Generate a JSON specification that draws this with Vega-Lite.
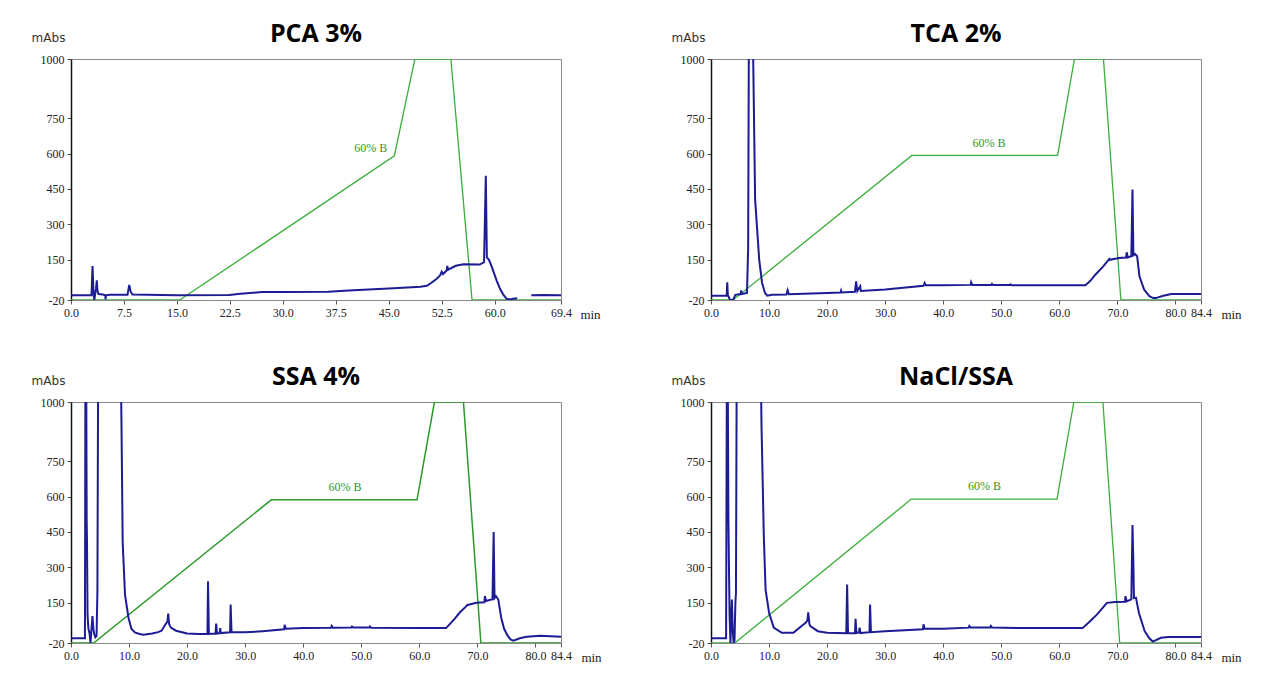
{
  "$schema": "https://vega.github.io/schema/vega-lite/v6.json",
  "background": "white",
  "padding": {"left": 30, "top": 21, "right": 0, "bottom": 0},
  "autosize": {"type": "pad"},
  "config": {
    "view": {"stroke": "#888888", "strokeWidth": 1},
    "axis": {
      "grid": false,
      "labelFont": "Liberation Serif",
      "labelFontSize": 12,
      "labelColor": "#222222",
      "labelFlush": false,
      "labelOverlap": false,
      "tickColor": "#555555",
      "tickSize": 4,
      "labelPadding": 3
    },
    "axisY": {
      "domainColor": "#111111",
      "domainWidth": 1.5,
      "labelExpr": "'' + datum.value",
      "titleFont": "DejaVu Sans",
      "titleFontSize": 12,
      "titleFontWeight": "normal",
      "titleColor": "#333333",
      "titleAngle": 0,
      "titleAlign": "center",
      "titleBaseline": "middle",
      "titleX": -23,
      "titleY": -22
    },
    "axisX": {
      "domainColor": "#888888",
      "titleFont": "Liberation Serif",
      "titleFontSize": 13,
      "titleFontWeight": "normal",
      "titleColor": "#222222",
      "titleAlign": "center",
      "titleBaseline": "middle",
      "titleX": 519,
      "titleY": 14
    },
    "title": {
      "font": "Open Sans",
      "fontSize": 25,
      "fontWeight": "bold",
      "color": "#000000",
      "anchor": "middle",
      "frame": "group",
      "offset": 0,
      "dy": 20
    }
  },
  "datasets": {
    "pca": [
      {"t": 0, "v": 0, "seg": 1}, {"t": 2.9, "v": 0, "seg": 1}, {"t": 3.05, "v": 124, "seg": 1}, {"t": 3.2, "v": 2, "seg": 1}, {"t": 3.3, "v": -20, "seg": 1}, {"t": 3.4, "v": 0, "seg": 1}, {"t": 3.55, "v": 30, "seg": 1}, {"t": 3.65, "v": 63, "seg": 1}, {"t": 3.75, "v": 20, "seg": 1}, {"t": 3.9, "v": 5, "seg": 1}, {"t": 4.5, "v": 3, "seg": 1}, {"t": 4.85, "v": 0, "seg": 1}, {"t": 4.9, "v": -18, "seg": 1}, {"t": 4.95, "v": 0, "seg": 1}, {"t": 5.5, "v": 2, "seg": 1}, {"t": 8.0, "v": 2, "seg": 1}, {"t": 8.25, "v": 44, "seg": 1}, {"t": 8.45, "v": 15, "seg": 1}, {"t": 8.7, "v": 3, "seg": 1}, {"t": 15, "v": 0, "seg": 1}, {"t": 22.4, "v": 1, "seg": 1}, {"t": 24, "v": 6, "seg": 1}, {"t": 27, "v": 14, "seg": 1}, {"t": 30, "v": 14, "seg": 1}, {"t": 36.4, "v": 15, "seg": 1}, {"t": 40, "v": 21, "seg": 1}, {"t": 45.7, "v": 30, "seg": 1}, {"t": 49.5, "v": 36, "seg": 1}, {"t": 50.4, "v": 40, "seg": 1}, {"t": 51, "v": 52, "seg": 1}, {"t": 51.8, "v": 70, "seg": 1}, {"t": 52.3, "v": 85, "seg": 1}, {"t": 52.5, "v": 100, "seg": 1}, {"t": 52.7, "v": 90, "seg": 1}, {"t": 53.2, "v": 105, "seg": 1}, {"t": 53.3, "v": 124, "seg": 1}, {"t": 53.4, "v": 108, "seg": 1}, {"t": 54.5, "v": 125, "seg": 1}, {"t": 55.6, "v": 131, "seg": 1}, {"t": 57.9, "v": 130, "seg": 1}, {"t": 58.5, "v": 140, "seg": 1}, {"t": 58.75, "v": 506, "seg": 1}, {"t": 58.9, "v": 160, "seg": 1}, {"t": 59.2, "v": 150, "seg": 1}, {"t": 59.6, "v": 120, "seg": 1}, {"t": 60.3, "v": 61, "seg": 1}, {"t": 60.8, "v": 25, "seg": 1}, {"t": 61.2, "v": 4, "seg": 1}, {"t": 61.7, "v": -15, "seg": 1}, {"t": 62.2, "v": -18, "seg": 1}, {"t": 62.6, "v": -15, "seg": 1}, {"t": 63.2, "v": -13, "seg": 1},
      {"t": 65.2, "v": 0, "seg": 2}, {"t": 67, "v": 1, "seg": 2}, {"t": 69.4, "v": 0, "seg": 2}
    ],
    "pcaGrad": [
      {"t": 0, "v": -20}, {"t": 15.4, "v": -20}, {"t": 45.8, "v": 590}, {"t": 48.7, "v": 1000}, {"t": 53.8, "v": 1000}, {"t": 56.8, "v": -20}, {"t": 69.4, "v": -20}
    ],
    "pcaLab": [{"t": 44.8, "v": 622, "label": "60% B"}],
    "tca": [
      {"t": 0, "v": -2}, {"t": 2.7, "v": -2}, {"t": 2.8, "v": 55}, {"t": 2.9, "v": 0}, {"t": 3.3, "v": -20}, {"t": 3.8, "v": -20}, {"t": 4.2, "v": 2}, {"t": 5.1, "v": 5}, {"t": 5.2, "v": 21}, {"t": 5.3, "v": 5}, {"t": 6.2, "v": 10}, {"t": 6.4, "v": 200}, {"t": 6.55, "v": 1300}, {"t": 7.1, "v": 1300}, {"t": 7.6, "v": 406}, {"t": 8.3, "v": 151}, {"t": 8.8, "v": 52}, {"t": 9.3, "v": 10}, {"t": 9.7, "v": -2}, {"t": 10.5, "v": 2}, {"t": 13.0, "v": 3}, {"t": 13.2, "v": 21}, {"t": 13.4, "v": 4}, {"t": 16, "v": 6}, {"t": 20, "v": 10}, {"t": 22.3, "v": 12}, {"t": 22.4, "v": 20}, {"t": 22.5, "v": 12}, {"t": 24.8, "v": 15}, {"t": 25.0, "v": 59}, {"t": 25.2, "v": 18}, {"t": 25.7, "v": 38}, {"t": 25.8, "v": 18}, {"t": 30, "v": 24}, {"t": 36.6, "v": 40}, {"t": 36.8, "v": 52}, {"t": 37.0, "v": 42}, {"t": 40, "v": 42}, {"t": 44.7, "v": 44}, {"t": 44.8, "v": 55}, {"t": 45, "v": 44}, {"t": 48.3, "v": 44}, {"t": 48.4, "v": 48}, {"t": 48.6, "v": 43}, {"t": 51.5, "v": 43}, {"t": 51.6, "v": 46}, {"t": 51.8, "v": 42}, {"t": 60, "v": 42}, {"t": 64.5, "v": 42}, {"t": 65.3, "v": 60}, {"t": 66.2, "v": 87}, {"t": 67.6, "v": 123}, {"t": 68.6, "v": 154}, {"t": 68.7, "v": 150}, {"t": 70.3, "v": 158}, {"t": 71.5, "v": 160}, {"t": 71.6, "v": 182}, {"t": 71.8, "v": 160}, {"t": 72.4, "v": 165}, {"t": 72.6, "v": 448}, {"t": 72.75, "v": 170}, {"t": 73.0, "v": 175}, {"t": 73.4, "v": 165}, {"t": 73.8, "v": 80}, {"t": 74.6, "v": 24}, {"t": 75.5, "v": -4}, {"t": 76.2, "v": -12}, {"t": 76.6, "v": -12}, {"t": 77.9, "v": -2}, {"t": 79.3, "v": 5}, {"t": 84.4, "v": 5}
    ],
    "tcaGrad": [
      {"t": 0, "v": -20}, {"t": 3.8, "v": -20}, {"t": 34.6, "v": 592}, {"t": 59.7, "v": 592}, {"t": 62.6, "v": 1000}, {"t": 67.6, "v": 1000}, {"t": 70.6, "v": -20}, {"t": 84.4, "v": -20}
    ],
    "tcaLab": [{"t": 47.9, "v": 643, "label": "60% B"}],
    "ssa": [
      {"t": 0, "v": 0}, {"t": 2.4, "v": 0}, {"t": 2.5, "v": 1300}, {"t": 2.6, "v": 1300}, {"t": 2.7, "v": 500}, {"t": 2.75, "v": 420}, {"t": 2.85, "v": 100}, {"t": 3.0, "v": 40}, {"t": 3.2, "v": 20}, {"t": 3.35, "v": -20}, {"t": 3.5, "v": 30}, {"t": 3.7, "v": 94}, {"t": 3.85, "v": 40}, {"t": 4.0, "v": 18}, {"t": 4.2, "v": 4}, {"t": 4.4, "v": 10}, {"t": 4.55, "v": 200}, {"t": 4.7, "v": 1300}, {"t": 8.5, "v": 1300}, {"t": 8.7, "v": 900}, {"t": 8.9, "v": 408}, {"t": 9.3, "v": 185}, {"t": 9.9, "v": 87}, {"t": 10.4, "v": 40}, {"t": 11.0, "v": 25}, {"t": 11.8, "v": 18}, {"t": 12.5, "v": 15}, {"t": 14, "v": 20}, {"t": 15.0, "v": 26}, {"t": 15.6, "v": 32}, {"t": 16.3, "v": 60}, {"t": 16.6, "v": 70}, {"t": 16.75, "v": 104}, {"t": 16.9, "v": 60}, {"t": 17.2, "v": 45}, {"t": 18.1, "v": 32}, {"t": 20, "v": 20}, {"t": 22, "v": 18}, {"t": 23.5, "v": 18}, {"t": 23.6, "v": 241}, {"t": 23.75, "v": 18}, {"t": 24.9, "v": 20}, {"t": 25.0, "v": 62}, {"t": 25.15, "v": 20}, {"t": 25.6, "v": 22}, {"t": 25.7, "v": 43}, {"t": 25.8, "v": 22}, {"t": 27.4, "v": 25}, {"t": 27.5, "v": 143}, {"t": 27.65, "v": 25}, {"t": 30, "v": 25}, {"t": 33, "v": 30}, {"t": 36.7, "v": 38}, {"t": 36.8, "v": 57}, {"t": 37.0, "v": 40}, {"t": 40, "v": 43}, {"t": 44.8, "v": 45}, {"t": 44.9, "v": 52}, {"t": 45.1, "v": 45}, {"t": 48.3, "v": 46}, {"t": 48.4, "v": 50}, {"t": 48.6, "v": 46}, {"t": 51.4, "v": 46}, {"t": 51.5, "v": 50}, {"t": 51.7, "v": 45}, {"t": 60, "v": 43}, {"t": 64.6, "v": 43}, {"t": 66, "v": 80}, {"t": 67, "v": 110}, {"t": 68.1, "v": 136}, {"t": 68.2, "v": 140}, {"t": 69.8, "v": 150}, {"t": 71.2, "v": 152}, {"t": 71.3, "v": 178}, {"t": 71.5, "v": 158}, {"t": 72.6, "v": 165}, {"t": 72.8, "v": 450}, {"t": 72.95, "v": 170}, {"t": 73.2, "v": 178}, {"t": 73.6, "v": 164}, {"t": 74.1, "v": 87}, {"t": 74.6, "v": 40}, {"t": 75.2, "v": 11}, {"t": 75.7, "v": -5}, {"t": 76.2, "v": -10}, {"t": 77.3, "v": 0}, {"t": 78.5, "v": 6}, {"t": 80.8, "v": 11}, {"t": 84.4, "v": 6}
    ],
    "ssaGrad": [
      {"t": 0, "v": -20}, {"t": 3.9, "v": -20}, {"t": 34.5, "v": 586}, {"t": 59.6, "v": 586}, {"t": 62.6, "v": 1000}, {"t": 67.6, "v": 1000}, {"t": 70.6, "v": -20}, {"t": 84.4, "v": -20}
    ],
    "ssaLab": [{"t": 47.2, "v": 639, "label": "60% B"}],
    "nacl": [
      {"t": 0, "v": 0}, {"t": 2.6, "v": 0}, {"t": 2.75, "v": 1300}, {"t": 2.85, "v": 1300}, {"t": 3.0, "v": 500}, {"t": 3.1, "v": 290}, {"t": 3.2, "v": 100}, {"t": 3.35, "v": -20}, {"t": 3.5, "v": 100}, {"t": 3.6, "v": 164}, {"t": 3.75, "v": 30}, {"t": 3.9, "v": -20}, {"t": 4.05, "v": -10}, {"t": 4.2, "v": 150}, {"t": 4.3, "v": 192}, {"t": 4.45, "v": 1300}, {"t": 8.5, "v": 1300}, {"t": 8.7, "v": 900}, {"t": 9.1, "v": 430}, {"t": 9.4, "v": 206}, {"t": 10.0, "v": 108}, {"t": 10.8, "v": 45}, {"t": 12.2, "v": 23}, {"t": 14.2, "v": 23}, {"t": 15.6, "v": 52}, {"t": 16.3, "v": 66}, {"t": 16.6, "v": 75}, {"t": 16.75, "v": 110}, {"t": 16.95, "v": 60}, {"t": 17.1, "v": 52}, {"t": 18.4, "v": 30}, {"t": 20, "v": 23}, {"t": 23.3, "v": 21}, {"t": 23.45, "v": 227}, {"t": 23.6, "v": 21}, {"t": 24.8, "v": 22}, {"t": 24.9, "v": 82}, {"t": 25.05, "v": 22}, {"t": 25.5, "v": 25}, {"t": 25.6, "v": 45}, {"t": 25.75, "v": 22}, {"t": 27.3, "v": 26}, {"t": 27.4, "v": 143}, {"t": 27.55, "v": 26}, {"t": 30, "v": 30}, {"t": 36.5, "v": 38}, {"t": 36.6, "v": 59}, {"t": 36.8, "v": 40}, {"t": 40, "v": 40}, {"t": 44.4, "v": 45}, {"t": 44.5, "v": 52}, {"t": 44.7, "v": 46}, {"t": 48.1, "v": 46}, {"t": 48.2, "v": 52}, {"t": 48.4, "v": 46}, {"t": 52.7, "v": 43}, {"t": 64, "v": 43}, {"t": 65.2, "v": 70}, {"t": 66.5, "v": 101}, {"t": 67.5, "v": 130}, {"t": 68.2, "v": 150}, {"t": 69.6, "v": 154}, {"t": 71.3, "v": 155}, {"t": 71.4, "v": 178}, {"t": 71.6, "v": 156}, {"t": 72.4, "v": 165}, {"t": 72.6, "v": 479}, {"t": 72.75, "v": 320}, {"t": 72.85, "v": 170}, {"t": 73.2, "v": 171}, {"t": 73.7, "v": 108}, {"t": 74.7, "v": 30}, {"t": 75.5, "v": 0}, {"t": 76.1, "v": -14}, {"t": 77.5, "v": 2}, {"t": 78.8, "v": 5}, {"t": 84.4, "v": 5}
    ],
    "naclGrad": [
      {"t": 0, "v": -20}, {"t": 4.1, "v": -20}, {"t": 34.5, "v": 589}, {"t": 59.6, "v": 589}, {"t": 62.5, "v": 1000}, {"t": 67.5, "v": 1000}, {"t": 70.4, "v": -20}, {"t": 84.4, "v": -20}
    ],
    "naclLab": [{"t": 47.1, "v": 643, "label": "60% B"}]
  },
  "columns": 2,
  "spacing": {"row": 102, "column": 150},
  "bounds": "flush",
  "concat": [
    {
      "title": {"text": "PCA 3%"},
      "width": 490,
      "height": 241,
      "encoding": {
        "x": {"field": "t", "type": "quantitative", "scale": {"domain": [0, 69.4], "nice": false, "zero": false}, "axis": {"values": [0, 7.5, 15, 22.5, 30, 37.5, 45, 52.5, 60, 69.4], "format": ".1f", "title": "min", "titleX": 519}},
        "y": {"field": "v", "type": "quantitative", "scale": {"domain": [-20, 1000], "nice": false, "zero": false}, "axis": {"values": [-20, 150, 300, 450, 600, 750, 1000], "title": "mAbs"}}
      },
      "layer": [
        {"data": {"name": "pcaGrad"}, "mark": {"type": "line", "color": "#3aae3a", "strokeWidth": 1.3, "clip": true}},
        {"data": {"name": "pca"}, "mark": {"type": "line", "color": "#1c1c94", "strokeWidth": 2, "clip": true}, "encoding": {"detail": {"field": "seg", "type": "nominal"}}},
        {"data": {"name": "pcaLab"}, "mark": {"type": "text", "color": "#2a9a2a", "font": "Liberation Serif", "fontSize": 12, "align": "right", "baseline": "middle"}, "encoding": {"text": {"field": "label"}}}
      ]
    },
    {
      "title": {"text": "TCA 2%"},
      "width": 490,
      "height": 241,
      "encoding": {
        "x": {"field": "t", "type": "quantitative", "scale": {"domain": [0, 84.4], "nice": false, "zero": false}, "axis": {"values": [0, 10, 20, 30, 40, 50, 60, 70, 80, 84.4], "format": ".1f", "title": "min", "titleX": 520}},
        "y": {"field": "v", "type": "quantitative", "scale": {"domain": [-20, 1000], "nice": false, "zero": false}, "axis": {"values": [-20, 150, 300, 450, 600, 750, 1000], "title": "mAbs"}}
      },
      "layer": [
        {"data": {"name": "tcaGrad"}, "mark": {"type": "line", "color": "#3aae3a", "strokeWidth": 1.3, "clip": true}},
        {"data": {"name": "tca"}, "mark": {"type": "line", "color": "#1c1c94", "strokeWidth": 2, "clip": true}},
        {"data": {"name": "tcaLab"}, "mark": {"type": "text", "color": "#2a9a2a", "font": "Liberation Serif", "fontSize": 12, "align": "center", "baseline": "middle"}, "encoding": {"text": {"field": "label"}}}
      ]
    },
    {
      "title": {"text": "SSA 4%"},
      "width": 490,
      "height": 241,
      "encoding": {
        "x": {"field": "t", "type": "quantitative", "scale": {"domain": [0, 84.4], "nice": false, "zero": false}, "axis": {"values": [0, 10, 20, 30, 40, 50, 60, 70, 80, 84.4], "format": ".1f", "title": "min", "titleX": 520}},
        "y": {"field": "v", "type": "quantitative", "scale": {"domain": [-20, 1000], "nice": false, "zero": false}, "axis": {"values": [-20, 150, 300, 450, 600, 750, 1000], "title": "mAbs"}}
      },
      "layer": [
        {"data": {"name": "ssaGrad"}, "mark": {"type": "line", "color": "#2a9a2a", "strokeWidth": 1.5, "clip": true}},
        {"data": {"name": "ssa"}, "mark": {"type": "line", "color": "#1c1c94", "strokeWidth": 2, "clip": true}},
        {"data": {"name": "ssaLab"}, "mark": {"type": "text", "color": "#2a9a2a", "font": "Liberation Serif", "fontSize": 12, "align": "center", "baseline": "middle"}, "encoding": {"text": {"field": "label"}}}
      ]
    },
    {
      "title": {"text": "NaCl/SSA"},
      "width": 490,
      "height": 241,
      "encoding": {
        "x": {"field": "t", "type": "quantitative", "scale": {"domain": [0, 84.4], "nice": false, "zero": false}, "axis": {"values": [0, 10, 20, 30, 40, 50, 60, 70, 80, 84.4], "format": ".1f", "title": "min", "titleX": 520}},
        "y": {"field": "v", "type": "quantitative", "scale": {"domain": [-20, 1000], "nice": false, "zero": false}, "axis": {"values": [-20, 150, 300, 450, 600, 750, 1000], "title": "mAbs"}}
      },
      "layer": [
        {"data": {"name": "naclGrad"}, "mark": {"type": "line", "color": "#3aae3a", "strokeWidth": 1.3, "clip": true}},
        {"data": {"name": "nacl"}, "mark": {"type": "line", "color": "#1c1c94", "strokeWidth": 2, "clip": true}},
        {"data": {"name": "naclLab"}, "mark": {"type": "text", "color": "#2a9a2a", "font": "Liberation Serif", "fontSize": 12, "align": "center", "baseline": "middle"}, "encoding": {"text": {"field": "label"}}}
      ]
    }
  ]
}
